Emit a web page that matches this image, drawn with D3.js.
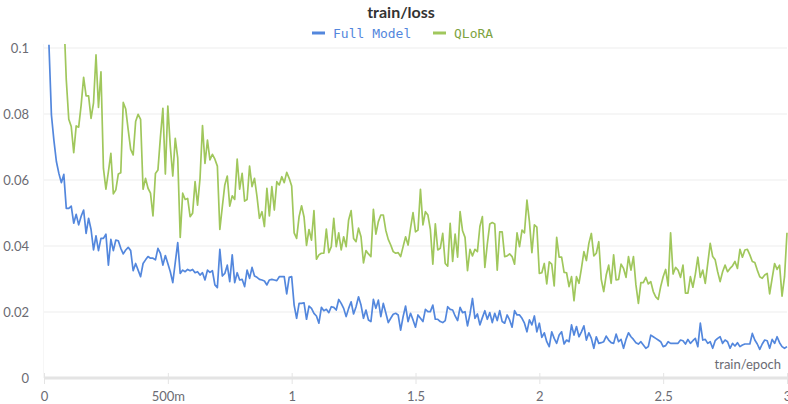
<!DOCTYPE html>
<html>
<head>
<meta charset="utf-8">
<script src="https://cdn.jsdelivr.net/npm/d3@7"></script>
<style>
  body { margin: 0; background: #fff; }
  svg { display: block; font-family: Lato, "Open Sans", sans-serif; }
</style>
</head>
<body>
<svg width="788" height="404"></svg>
<script>
// logged every 0.01 epoch
const epochStep = 0.01;
const fullStart = 0.02;
const qloraStart = 0.08;

const fullModel = [
  0.101, 0.0797, 0.072, 0.0656, 0.062, 0.0592, 0.0617, 0.0514, 0.0514, 0.0521,
  0.0469, 0.0496, 0.0464, 0.049, 0.0509, 0.0438, 0.0484, 0.045, 0.0388, 0.0431,
  0.0386, 0.0423, 0.0423, 0.0436, 0.0342, 0.042, 0.0386, 0.0418, 0.0416, 0.0393,
  0.0376, 0.0388, 0.0396, 0.0386, 0.0325, 0.0347, 0.0327, 0.0307, 0.0347, 0.0358,
  0.0368, 0.0363, 0.0363, 0.0358, 0.0393, 0.0378, 0.0342, 0.0371, 0.0347, 0.0322,
  0.0289, 0.035, 0.041, 0.0317, 0.0327, 0.0322, 0.0329, 0.0325, 0.0329, 0.0319,
  0.0322, 0.0312, 0.0319, 0.0297, 0.0327, 0.032, 0.0325, 0.0282, 0.0274, 0.039,
  0.0309, 0.0317, 0.0342, 0.0292, 0.0373, 0.0289, 0.0319, 0.0297, 0.0299, 0.0277,
  0.0327, 0.0302, 0.0335, 0.0309, 0.0305, 0.0299, 0.0297, 0.0294, 0.0282, 0.0297,
  0.0299, 0.0297, 0.0295, 0.0307, 0.0307, 0.0307, 0.0255, 0.0305, 0.0307, 0.0221,
  0.0181, 0.0226, 0.0226, 0.0228, 0.0178, 0.0218, 0.0211, 0.0196, 0.0188, 0.0166,
  0.0214, 0.0204, 0.0208, 0.0198, 0.0216, 0.0214, 0.0206, 0.0238, 0.0226, 0.0211,
  0.0186, 0.0211, 0.0231, 0.0194, 0.0216, 0.0246, 0.0221, 0.0181, 0.0206, 0.0176,
  0.0171, 0.0238, 0.0211, 0.0236, 0.0186, 0.0226, 0.0198, 0.0168, 0.0181, 0.0193,
  0.0196, 0.0191, 0.0145, 0.0186, 0.0218, 0.0171, 0.0196, 0.0176, 0.0154, 0.0191,
  0.0181, 0.0171, 0.0208, 0.0201, 0.0201, 0.0221, 0.0178, 0.0178, 0.0171, 0.0168,
  0.0174, 0.0216, 0.0208, 0.0206, 0.0188, 0.0174, 0.0214, 0.0198, 0.0201, 0.0158,
  0.0194, 0.0241, 0.0181, 0.0194, 0.0161, 0.0183, 0.0204, 0.0178, 0.0198, 0.0168,
  0.0196, 0.0174, 0.0204, 0.0171, 0.0166, 0.0191, 0.0176, 0.0154, 0.0204, 0.0191,
  0.0191, 0.0181, 0.0166, 0.014, 0.0176, 0.0161, 0.0188, 0.014, 0.0166, 0.0123,
  0.0137, 0.011, 0.0095, 0.014, 0.012, 0.0105, 0.013, 0.014, 0.0103, 0.0115,
  0.011, 0.0161, 0.013, 0.0156, 0.0125, 0.014, 0.0158, 0.0115, 0.0137, 0.012,
  0.009, 0.0125, 0.0105, 0.0107, 0.011, 0.0127, 0.0115, 0.0107, 0.0105, 0.0133,
  0.011, 0.0117, 0.009, 0.0117, 0.0137, 0.0125, 0.0117, 0.0107, 0.0103, 0.011,
  0.01, 0.009, 0.0095, 0.013, 0.0125, 0.012, 0.0115, 0.011, 0.0095, 0.0098,
  0.011, 0.0105, 0.0105, 0.0105, 0.0105, 0.0115, 0.0113, 0.0103, 0.0117, 0.0105,
  0.0113, 0.012, 0.0095, 0.0166, 0.0115, 0.0117, 0.0105, 0.011, 0.009, 0.0113,
  0.012, 0.0125, 0.0105, 0.0115, 0.011, 0.009, 0.0105, 0.0097, 0.0107, 0.0095,
  0.01, 0.0103, 0.0103, 0.0103, 0.0135, 0.0115, 0.0103, 0.0087, 0.0103, 0.0115,
  0.0113, 0.009, 0.0117, 0.0105, 0.0125, 0.0107, 0.0095, 0.009, 0.0095
];

const qlora = [
  0.11, 0.0903, 0.0784, 0.0762, 0.0683, 0.0764, 0.076, 0.0827, 0.0911, 0.0855,
  0.0855, 0.0787, 0.0834, 0.0979, 0.082, 0.0928, 0.0635, 0.0572, 0.0625, 0.0681,
  0.0558, 0.057, 0.0618, 0.0622, 0.0835, 0.0815, 0.0752, 0.0693, 0.0676, 0.0777,
  0.0799, 0.0784, 0.0572, 0.0605, 0.0575, 0.056, 0.0491, 0.062, 0.063, 0.0729,
  0.0817, 0.0618, 0.0824, 0.0701, 0.0612, 0.0726, 0.0666, 0.0426, 0.056, 0.0541,
  0.0544, 0.0489, 0.0499, 0.0595, 0.0524, 0.0605, 0.0765, 0.065, 0.0721, 0.0661,
  0.0678, 0.0663, 0.0642, 0.045, 0.0519, 0.0585, 0.0612, 0.0521, 0.0552, 0.0541,
  0.0663, 0.0572, 0.062, 0.0536, 0.0541, 0.0642, 0.058, 0.0605, 0.055, 0.0484,
  0.0504, 0.0459, 0.0575, 0.0491, 0.058, 0.0509, 0.0595, 0.0585, 0.061, 0.0592,
  0.0623, 0.0605, 0.0582, 0.044, 0.0423, 0.0489, 0.0522, 0.0488, 0.0402, 0.045,
  0.0418, 0.0507, 0.036, 0.0373, 0.0378, 0.0378, 0.0451, 0.038, 0.0398, 0.0484,
  0.0398, 0.044, 0.0388, 0.0428, 0.0398, 0.0479, 0.0507, 0.0423, 0.0413, 0.0454,
  0.0428, 0.0349, 0.0386, 0.0376, 0.0368, 0.0511, 0.0436, 0.0474, 0.0494, 0.0494,
  0.0448, 0.042, 0.0403, 0.0383, 0.0378, 0.038, 0.0368, 0.0398, 0.0428, 0.0403,
  0.0454, 0.0501, 0.0443, 0.0448, 0.0572, 0.0464, 0.0504, 0.0494, 0.045, 0.0345,
  0.0467, 0.0388, 0.0393, 0.0438, 0.0347, 0.0339, 0.0469, 0.0353, 0.0436, 0.0366,
  0.0504, 0.0446, 0.0426, 0.0325, 0.039, 0.037, 0.039, 0.0383, 0.0459, 0.0489,
  0.0335, 0.0406, 0.0467, 0.0471, 0.0467, 0.0327, 0.0443, 0.0443, 0.0368, 0.037,
  0.0376, 0.0368, 0.0345, 0.044, 0.0398, 0.0448, 0.044, 0.0539, 0.0474, 0.038,
  0.0464, 0.0457, 0.0317, 0.0319, 0.0347, 0.0285, 0.0352, 0.0345, 0.0279, 0.0426,
  0.0366, 0.0366, 0.032, 0.0319, 0.0277, 0.0307, 0.0234, 0.0307, 0.0287, 0.0332,
  0.0383, 0.0356, 0.0408, 0.0438, 0.037, 0.0378, 0.0413, 0.0299, 0.0262, 0.0312,
  0.0342, 0.0287, 0.0373, 0.0297, 0.0299, 0.0345, 0.0332, 0.0305, 0.0368, 0.0327,
  0.0368, 0.0282, 0.0226, 0.0289, 0.0289, 0.0305, 0.0285, 0.0292, 0.0262, 0.0246,
  0.0238, 0.0277, 0.0307, 0.0329, 0.0279, 0.044, 0.0315, 0.0335, 0.0327, 0.0305,
  0.0342, 0.0257, 0.0257, 0.0307, 0.0275, 0.0315, 0.0366, 0.0305, 0.0327, 0.0287,
  0.0347, 0.0408, 0.0368, 0.0358, 0.0322, 0.0292, 0.0322, 0.0342, 0.0322, 0.0332,
  0.034, 0.0353, 0.0332, 0.039, 0.0366, 0.0388, 0.039, 0.0373, 0.0353, 0.035,
  0.0327, 0.0307, 0.0302, 0.0312, 0.0317, 0.0255, 0.0302, 0.0347, 0.0329, 0.0342,
  0.0248, 0.0307, 0.044
];

const xTicks = [0, 0.5, 1, 1.5, 2, 2.5, 3];
const xTickLabels = ["0", "500m", "1", "1.5", "2", "2.5", "3"];
const yTicks = [0, 0.02, 0.04, 0.06, 0.08, 0.1];
const yTickLabels = ["0", "0.02", "0.04", "0.06", "0.08", "0.1"];

const seriesNames = ["Full Model", "QLoRA"];
const lineColors = ["#5387dd", "#a0c75c"];
const textColors = ["#5387dd", "#7da33f"];

const svg = d3.select("svg"),
    width = +svg.attr("width"),
    height = +svg.attr("height");

const margin = {left: 44, right: 1, top: 48, bottom: 26};

const x = d3.scaleLinear()
    .domain([0, 3])
    .range([margin.left, width - margin.right]);

const y = d3.scaleLinear()
    .domain([0, 0.1])
    .range([height - margin.bottom, margin.top]);

const series = [
  {name: seriesNames[0], color: lineColors[0],
   points: fullModel.map((v, i) => [fullStart + i * epochStep, v])},
  {name: seriesNames[1], color: lineColors[1],
   points: qlora.map((v, i) => [qloraStart + i * epochStep, v])}
];

// title
svg.append("text")
    .attr("x", 401)
    .attr("y", 18)
    .attr("text-anchor", "middle")
    .style("font-size", "16px")
    .style("font-weight", "bold")
    .style("fill", "#333")
    .text("train/loss");

// legend
const legendX = [312, 433];
seriesNames.forEach(function(name, i) {
  const g = svg.append("g").attr("transform", "translate(" + legendX[i] + ",33)");
  g.append("line")
      .attr("x1", 0).attr("x2", 13)
      .attr("stroke", lineColors[i])
      .attr("stroke-width", 3);
  g.append("text")
      .attr("x", 21)
      .attr("y", 5)
      .style("font-family", "'DejaVu Sans Mono', monospace")
      .style("font-size", "13px")
      .style("fill", textColors[i])
      .text(name);
});

// horizontal grid
svg.append("g")
    .selectAll("line")
    .data(yTicks.filter(d => d > 0))
    .enter().append("line")
    .attr("x1", x(0)).attr("x2", x(3))
    .attr("y1", d => y(d)).attr("y2", d => y(d))
    .attr("stroke", "#ededed")
    .attr("stroke-width", 1);

// faint left border
svg.append("line")
    .attr("x1", x(0) - 0.5).attr("x2", x(0) - 0.5)
    .attr("y1", y(0.1) - 4).attr("y2", y(0))
    .attr("stroke", "#f6f6f6");

// y axis labels
const yAxis = d3.axisLeft(y)
    .tickValues(yTicks)
    .tickFormat((d, i) => yTickLabels[i])
    .tickSize(0)
    .tickPadding(15);

const yg = svg.append("g")
    .attr("transform", "translate(" + margin.left + ",0)")
    .call(yAxis);
yg.select(".domain").remove();
yg.selectAll("text")
    .style("font-family", "Lato, sans-serif")
    .style("font-size", "13px")
    .style("fill", "#6b6b73");

// x axis
const xAxis = d3.axisBottom(x)
    .tickValues(xTicks)
    .tickFormat((d, i) => xTickLabels[i])
    .tickSize(6)
    .tickPadding(8);

const xg = svg.append("g")
    .attr("transform", "translate(0," + y(0) + ")")
    .call(xAxis);
xg.select(".domain")
    .attr("stroke", "#e4e4e4")
    .attr("stroke-width", 3)
    .attr("d", "M" + x(0) + ",0H" + x(3));
xg.selectAll(".tick line")
    .attr("stroke", "#e4e4e4")
    .attr("y1", -5)
    .attr("y2", 6);
xg.selectAll("text")
    .style("font-family", "Lato, sans-serif")
    .style("font-size", "13px")
    .style("fill", "#6b6b73");

svg.append("text")
    .attr("x", 781)
    .attr("y", 369)
    .attr("text-anchor", "end")
    .style("font-size", "13px")
    .style("fill", "#6b6b73")
    .text("train/epoch");

// clip lines to the plot area
svg.append("clipPath")
    .attr("id", "plot-clip")
    .append("rect")
    .attr("x", x(0))
    .attr("y", y(0.1012))
    .attr("width", x(3) - x(0) + 2)
    .attr("height", y(0) - y(0.1012));

const line = d3.line()
    .x(d => x(d[0]))
    .y(d => y(d[1]));

svg.append("g")
    .attr("clip-path", "url(#plot-clip)")
    .selectAll("path")
    .data(series.slice().reverse())
    .enter().append("path")
    .attr("fill", "none")
    .attr("stroke", d => d.color)
    .attr("stroke-width", 1.7)
    .attr("stroke-linejoin", "round")
    .attr("d", d => line(d.points));
</script>
</body>
</html>
